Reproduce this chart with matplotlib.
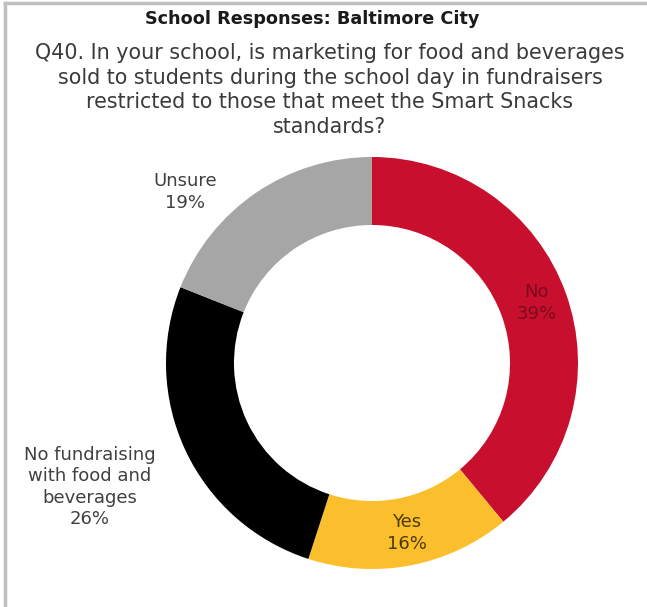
import matplotlib
matplotlib.use("Agg")
import matplotlib.pyplot as plt
from matplotlib.lines import Line2D

# Survey responses (percent), clockwise from 12 o'clock
categories = ["No", "Yes", "No fundraising\nwith food and\nbeverages", "Unsure"]
values = [39, 16, 26, 19]
colors = ["#C8102E", "#FBBF2E", "#000000", "#A6A6A6"]

title = "School Responses: Baltimore City"
question = ("Q40. In your school, is marketing for food and beverages\n"
            "sold to students during the school day in fundraisers\n"
            "restricted to those that meet the Smart Snacks\n"
            "standards?")

plt.rcParams["font.family"] = ["DejaVu Sans"]

W, H = 647, 607
fig = plt.figure(figsize=(W / 100, H / 100), dpi=100)
fig.patch.set_facecolor("white")

# frame lines on the left and top
fig.add_artist(Line2D([5 / W, 5 / W], [0, 1 - 3 / H], color="#BFBFBF", lw=2.5))
fig.add_artist(Line2D([5 / W, 1], [1 - 3 / H, 1 - 3 / H], color="#BFBFBF", lw=2.5))

fig.text(312 / W, 1 - 19 / H, title, ha="center", va="center",
         fontsize=12.7, fontweight="bold", color="#1a1a1a")
fig.text(330 / W, 1 - 90 / H, question, ha="center", va="center",
         fontsize=14.9, color="#3a3a3a", linespacing=1.28)

# donut: center (372, 363) px, radius 206 px
cx, cy, r = 372, 363, 206
ax = fig.add_axes([(cx - r) / W, (H - cy - r) / H, 2 * r / W, 2 * r / H])
ax.set_aspect("equal")
wedges, _ = ax.pie(values, colors=colors, startangle=90, counterclock=False,
                   wedgeprops=dict(width=0.33, linewidth=0),
                   radius=1.0)
ax.set_xlim(-1, 1)
ax.set_ylim(-1, 1)

# labels in pixel coordinates of the figure
label_pos = [(537, 303), (407, 533), (90, 487), (185, 192)]
label_cols = ["#7a0a1c", "#4d3a00", "#404040", "#404040"]
for cat, v, (px, py), c in zip(categories, values, label_pos, label_cols):
    fig.text(px / W, 1 - py / H, f"{cat}\n{v}%", ha="center", va="center",
             fontsize=13, color=c, linespacing=1.25)

fig.savefig("out.png", dpi=100, facecolor="white")
